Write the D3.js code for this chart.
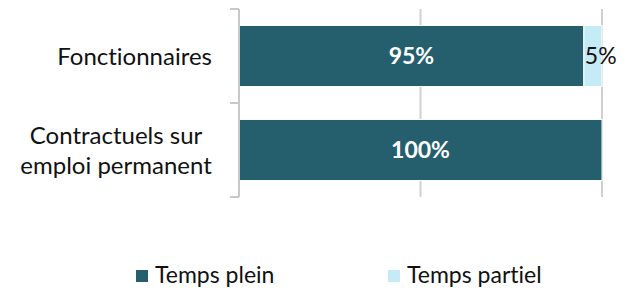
<!DOCTYPE html>
<html>
<head>
<meta charset="utf-8">
<script src="https://cdn.jsdelivr.net/npm/d3@7"></script>
<style>
  body { margin: 0; background: #fff; }
  svg text { font-family: Lato, "Open Sans", sans-serif; font-variant-ligatures: none; }
</style>
</head>
<body>
<svg id="chart" width="629" height="291"></svg>
<script>
// chart data
var categories = [["Fonctionnaires"], ["Contractuels sur", "emploi permanent"]];
var seriesNames = ["Temps plein", "Temps partiel"];
var tempsPlein = [0.95, 1.00];
var tempsPartiel = [0.05, 0.00];
var gridTicks = [0.5, 1.0];

var colors = ["#255F6E", "#C5EBF6"];

var svg = d3.select("#chart");

// scales
var x = d3.scaleLinear().domain([0, 1]).range([239, 602]);
var y = d3.scaleBand()
  .domain(d3.range(categories.length))
  .range([9, 197])
  .paddingInner(0.35)
  .paddingOuter(0.175);

// gridlines
svg.append("g").selectAll("line")
  .data(gridTicks)
  .enter().append("line")
  .attr("x1", function (d) { return x(d); })
  .attr("x2", function (d) { return x(d); })
  .attr("y1", 9).attr("y2", 197)
  .attr("stroke", "#D0D0D0")
  .attr("stroke-width", 2);

// stacked rows
var rows = categories.map(function (c, i) {
  return [
    { x0: 0, x1: tempsPlein[i], v: tempsPlein[i], s: 0 },
    { x0: tempsPlein[i], x1: tempsPlein[i] + tempsPartiel[i], v: tempsPartiel[i], s: 1 }
  ];
});

var rowG = svg.append("g").selectAll("g")
  .data(rows)
  .enter().append("g")
  .attr("transform", function (d, i) { return "translate(0," + y(i) + ")"; });

rowG.selectAll("rect")
  .data(function (d) { return d.filter(function (s) { return s.v > 0; }); })
  .enter().append("rect")
  .attr("x", function (d) { return x(d.x0); })
  .attr("width", function (d) { return x(d.x1) - x(d.x0); })
  .attr("height", y.bandwidth())
  .attr("fill", function (d) { return colors[d.s]; })
  .attr("stroke", "#fff")
  .attr("stroke-width", 1);

// value labels
rowG.selectAll("text")
  .data(function (d) { return d.filter(function (s) { return s.v > 0; }); })
  .enter().append("text")
  .attr("x", function (d) { return d.s === 0 ? (x(d.x0) + x(d.x1)) / 2 : x(d.x0) + 1; })
  .attr("y", y.bandwidth() / 2)
  .attr("dy", "0.36em")
  .attr("text-anchor", function (d) { return d.s === 0 ? "middle" : "start"; })
  .attr("font-size", 23)
  .attr("font-weight", function (d) { return d.s === 0 ? "bold" : "normal"; })
  .attr("fill", function (d) { return d.s === 0 ? "#fff" : "#111"; })
  .text(function (d) { return Math.round(d.v * 100) + "%"; });

// left axis
var axisG = svg.append("g").attr("stroke", "#C8C8C8").attr("stroke-width", 2);
axisG.append("line").attr("x1", x(0)).attr("x2", x(0)).attr("y1", 9).attr("y2", 197);
var bounds = [9].concat(d3.range(categories.length).map(function (i) { return y(i) + y.bandwidth() + y.step() * y.paddingInner() / 2; }));
axisG.selectAll("line.tick")
  .data(bounds)
  .enter().append("line")
  .attr("class", "tick")
  .attr("x1", x(0) - 9).attr("x2", x(0))
  .attr("y1", function (d) { return d; })
  .attr("y2", function (d) { return d; });

// category labels: block right aligned, lines centered inside
var lineH = 30;
var labelRight = 212;
categories.forEach(function (lines, i) {
  var g = svg.append("g");
  var cy = y(i) + y.bandwidth() / 2;
  var t = g.append("text")
    .attr("font-size", 24)
    .attr("fill", "#111")
    .attr("text-anchor", "middle");
  lines.forEach(function (l, j) {
    t.append("tspan")
      .attr("x", 0)
      .attr("y", cy + (j - (lines.length - 1) / 2) * lineH)
      .attr("dy", "0.36em")
      .text(l);
  });
  var w = t.node().getBBox().width;
  t.attr("transform", "translate(" + (labelRight - w / 2) + ",0)");
});

// legend
var legendX = [136, 388];
var leg = svg.append("g").selectAll("g")
  .data(seriesNames)
  .enter().append("g")
  .attr("transform", function (d, i) { return "translate(" + legendX[i] + ",270)"; });
leg.append("rect")
  .attr("width", 12).attr("height", 12)
  .attr("fill", function (d, i) { return colors[i]; });
leg.append("text")
  .attr("x", 19).attr("y", 13)
  .attr("font-size", 23)
  .attr("fill", "#111")
  .text(function (d) { return d; });
</script>
</body>
</html>
